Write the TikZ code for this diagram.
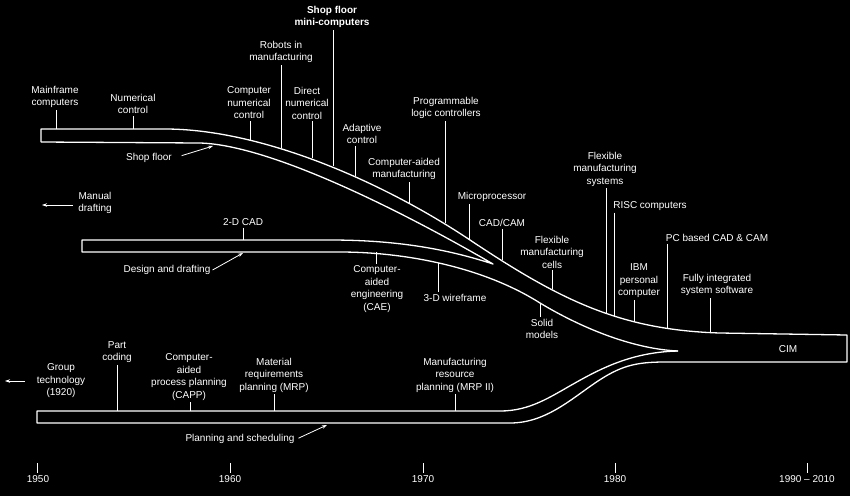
\documentclass[tikz,border=0pt]{standalone}
\usepackage{fontspec}
\setmainfont{Liberation Sans}
\usetikzlibrary{arrows.meta}

\newcommand{\lblfont}{\fontsize{10}{12.5}\selectfont}

\begin{document}
\begin{tikzpicture}[x=1pt, y=-1pt,
  lbl/.style={align=center, text=white, inner sep=2pt, font=\lblfont},
  band/.style={draw=white, line width=1.3pt, line join=round},
  tick/.style={draw=white, line width=0.9pt},
  pointer/.style={draw=white, line width=0.8pt, -{Stealth[length=5pt, width=3.5pt]}}]

  % Background
  \fill[black] (0,0) rectangle (850,496);
  \useasboundingbox (0,0) rectangle (850,496);

  % Shop floor band into CIM, back along planning band
  \draw[band] (41,142) -- (41,129) -- (165,129)
    .. controls (260,129) and (380,180) .. (470,240)
    .. controls (560,300) and (620,330) .. (720,333)
    -- (847,335) -- (847,362) -- (665,362)
    .. controls (635,362) and (620,366) .. (595,383)
    .. controls (570,400) and (545,423) .. (510,423)
    -- (37,423) -- (37,411) -- (500,411)
    .. controls (530,411) and (550,397) .. (575,383)
    .. controls (605,366) and (635,352) .. (678,351);

  % Shop floor lower edge, design band
  \draw[band] (41,142) -- (200,143)
    .. controls (270,145) and (400,210) .. (493,264)
    .. controls (450,250) and (400,240) .. (330,240)
    -- (82,240) -- (82,252) -- (340,252)
    .. controls (400,252) and (480,265) .. (540,303)
    .. controls (585,330) and (635,349) .. (678,351);

  \node[lbl] (cim) at (788,349) {CIM};

  % Shop floor
  \node[lbl] (mainframe) at (55,97) {Mainframe\\computers};
  \node[lbl] (numerical) at (133,104) {Numerical\\control};
  \node[lbl] (cnc) at (249,103) {Computer\\numerical\\control};
  \node[lbl] (robots) at (281,52) {Robots in\\manufacturing};
  \node[lbl] (direct) at (307,103) {Direct\\numerical\\control};
  \node[lbl, font=\lblfont\bfseries] (shopmini) at (332,17) {Shop floor\\mini-computers};
  \node[lbl] (adaptive) at (362,134) {Adaptive\\control};
  \node[lbl] (cam) at (404,169) {Computer-aided\\manufacturing};
  \node[lbl] (plc) at (446,108) {Programmable\\logic controllers};
  \node[lbl] (micro) at (492,197) {Microprocessor};
  \node[lbl] (cadcam) at (502,223) {CAD/CAM};
  \node[lbl] (fmc) at (552,252) {Flexible\\manufacturing\\cells};
  \node[lbl] (fms) at (605,169) {Flexible\\manufacturing\\systems};
  \node[lbl] (risc) at (650,206) {RISC computers};
  \node[lbl] (ibm) at (639,281) {IBM\\personal\\computer};
  \node[lbl] (pcbased) at (717,238) {PC based CAD \& CAM};
  \node[lbl] (fully) at (717,285) {Fully integrated\\system software};
  \node[lbl] (shopfloor) at (149,158) {Shop floor};

  \coordinate (tkmainframe) at (56,129);
  \coordinate (tknumerical) at (133,129);
  \coordinate (tkcnc) at (250,140);
  \coordinate (tkrobots) at (281,148);
  \coordinate (tkdirect) at (312,158);
  \coordinate (tkshopmini) at (333,166);
  \coordinate (tkadaptive) at (355,176);
  \coordinate (tkcam) at (409,203);
  \coordinate (tkplc) at (445,223);
  \coordinate (tkmicro) at (469,239);
  \coordinate (tkcadcam) at (502,260);
  \coordinate (tkfmc) at (552,289);
  \coordinate (tkfms) at (606,313);
  \coordinate (tkrisc) at (614,316);
  \coordinate (tkibm) at (634,321);
  \coordinate (tkpcbased) at (667,328);
  \coordinate (tkfully) at (710,332);
  \coordinate (shopfloorend) at (213,146);

  \draw[tick] (mainframe.south -| tkmainframe) -- (tkmainframe);
  \draw[tick] (numerical.south -| tknumerical) -- (tknumerical);
  \draw[tick] (cnc.south -| tkcnc) -- (tkcnc);
  \draw[tick] (robots.south -| tkrobots) -- (tkrobots);
  \draw[tick] (direct.south -| tkdirect) -- (tkdirect);
  \draw[tick] (shopmini.south -| tkshopmini) -- (tkshopmini);
  \draw[tick] (adaptive.south -| tkadaptive) -- (tkadaptive);
  \draw[tick] (cam.south -| tkcam) -- (tkcam);
  \draw[tick] (plc.south -| tkplc) -- (tkplc);
  \draw[tick] (micro.south -| tkmicro) -- (tkmicro);
  \draw[tick] (cadcam.south -| tkcadcam) -- (tkcadcam);
  \draw[tick] (fmc.south -| tkfmc) -- (tkfmc);
  \draw[tick] (fms.south -| tkfms) -- (tkfms);
  \draw[tick] (risc.south -| tkrisc) -- (tkrisc);
  \draw[tick] (ibm.south -| tkibm) -- (tkibm);
  \draw[tick] (pcbased.south -| tkpcbased) -- (tkpcbased);
  \draw[tick] (fully.south -| tkfully) -- (tkfully);
  \draw[pointer, shorten <=8pt] (shopfloor.east) -- (shopfloorend);

  % Design and drafting
  \node[lbl] (manual) at (95,203) {Manual\\drafting};
  \node[lbl] (twod) at (243,222) {2-D CAD};
  \node[lbl] (design) at (167,270) {Design and drafting};
  \node[lbl] (cae) at (377,289) {Computer-\\aided\\engineering\\(CAE)};
  \node[lbl] (wire) at (455,298) {3-D wireframe};
  \node[lbl] (solid) at (542,329) {Solid\\models};

  \coordinate (manualend) at (42,205);
  \coordinate (tktwod) at (243,240);
  \coordinate (designend) at (243,253);
  \coordinate (tkcae) at (376,252);
  \coordinate (tkwire) at (438,263);
  \coordinate (tksolid) at (540,303);

  \draw[pointer, shorten <=3pt] (manual.west |- manualend) -- (manualend);
  \draw[tick] (twod.south -| tktwod) -- (tktwod);
  \draw[pointer] (design.east) -- (designend);
  \draw[tick] (tkcae) -- (cae.north -| tkcae);
  \draw[tick] (tkwire) -- (wire.north -| tkwire);
  \draw[tick] (tksolid) -- (solid.north -| tksolid);

  % Planning and scheduling
  \node[lbl] (group) at (61,381) {Group\\technology\\(1920)};
  \node[lbl] (part) at (117,352) {Part\\coding};
  \node[lbl] (capp) at (189,377) {Computer-\\aided\\process planning\\(CAPP)};
  \node[lbl] (mrp) at (274,375) {Material\\requirements\\planning (MRP)};
  \node[lbl] (mrptwo) at (455,375) {Manufacturing\\resource\\planning (MRP II)};
  \node[lbl] (planning) at (240,439) {Planning and scheduling};

  \coordinate (groupend) at (5,381);
  \coordinate (tkpart) at (117,411);
  \coordinate (tkcapp) at (190,411);
  \coordinate (tkmrp) at (274,411);
  \coordinate (tkmrptwo) at (455,411);
  \coordinate (planningend) at (327,425);

  \draw[pointer, shorten <=10pt] (group.west) -- (groupend);
  \draw[tick] (part.south -| tkpart) -- (tkpart);
  \draw[tick] (capp.south -| tkcapp) -- (tkcapp);
  \draw[tick] (mrp.south -| tkmrp) -- (tkmrp);
  \draw[tick] (mrptwo.south -| tkmrptwo) -- (tkmrptwo);
  \draw[pointer, shorten <=2pt] (planning.east) -- (planningend);

  % Time axis
  \node[lbl] (y1950) at (38,479) {1950};
  \node[lbl] (y1960) at (230,479) {1960};
  \node[lbl] (y1970) at (423,479) {1970};
  \node[lbl] (y1980) at (615,479) {1980};
  \node[lbl] (y1990) at (807,479) {1990 -- 2010};

  \coordinate (t1950) at (37,463);
  \coordinate (t1960) at (230,463);
  \coordinate (t1970) at (423,463);
  \coordinate (t1980) at (615,463);
  \coordinate (t1990) at (807,463);

  \draw[tick] (t1950) -- (y1950.north -| t1950);
  \draw[tick] (t1960) -- (y1960.north -| t1960);
  \draw[tick] (t1970) -- (y1970.north -| t1970);
  \draw[tick] (t1980) -- (y1980.north -| t1980);
  \draw[tick] (t1990) -- (y1990.north -| t1990);
\end{tikzpicture}
\end{document}
